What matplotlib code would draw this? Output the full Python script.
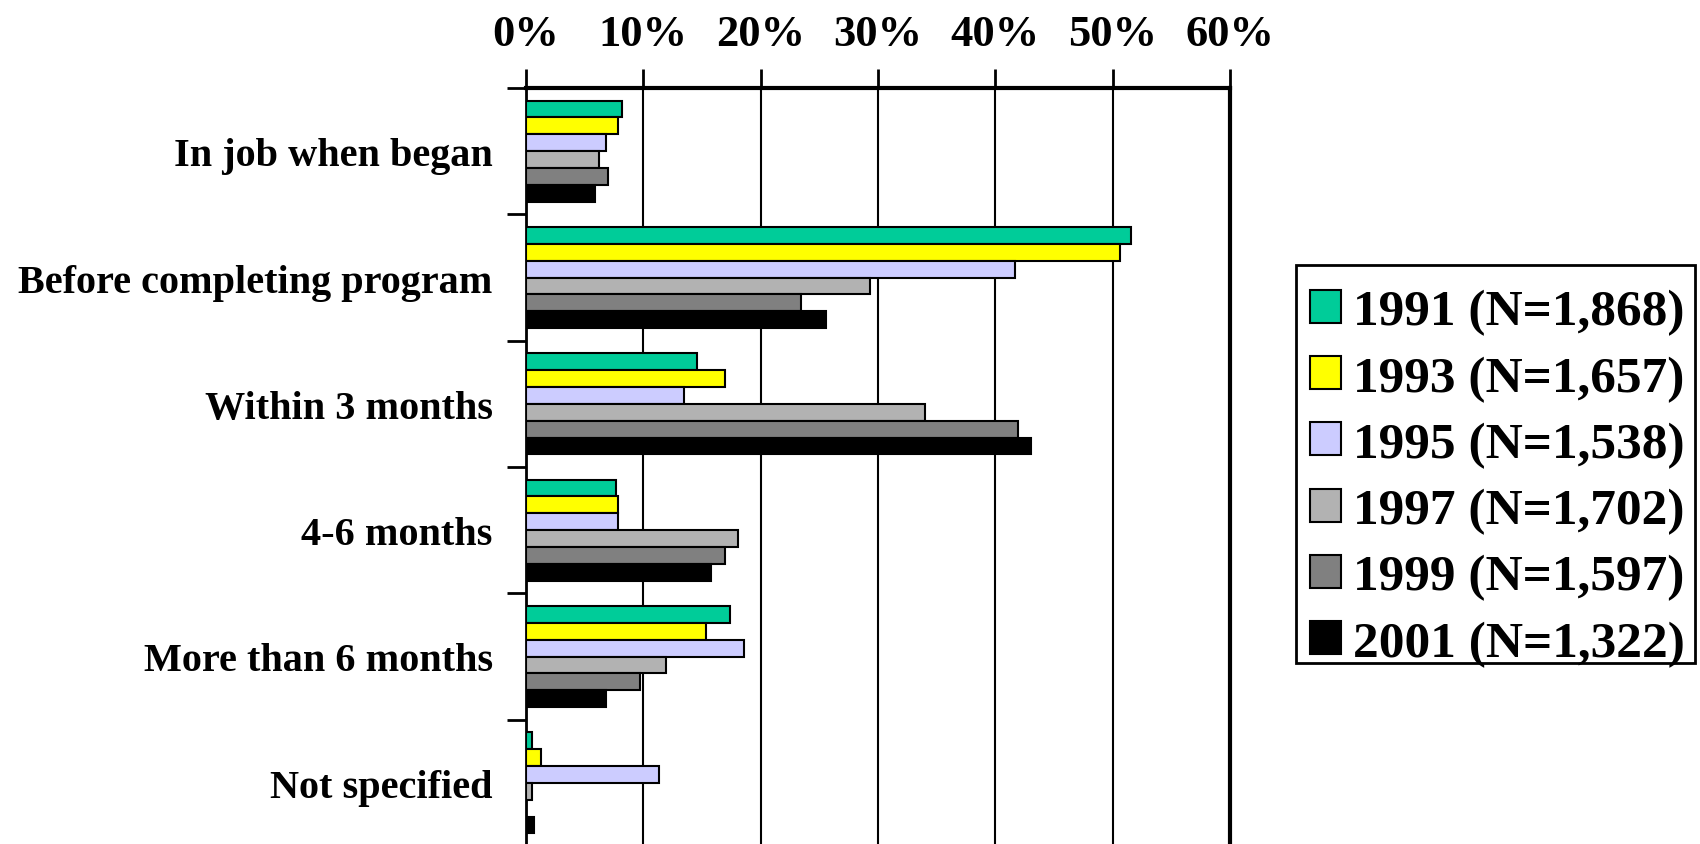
import matplotlib
matplotlib.use('Agg')
import matplotlib.pyplot as plt
from matplotlib.patches import Rectangle
from matplotlib.ticker import FixedLocator, FuncFormatter

plt.rcParams['font.family'] = ['Liberation Serif', 'DejaVu Serif']
plt.rcParams['font.weight'] = 'bold'

# timing of job placement, share of completers (%)
categories = ['In job when began', 'Before completing program', 'Within 3 months',
              '4-6 months', 'More than 6 months', 'Not specified']
series_labels = ['1991 (N=1,868)', '1993 (N=1,657)', '1995 (N=1,538)',
                 '1997 (N=1,702)', '1999 (N=1,597)', '2001 (N=1,322)']
colors = ['#00CC99', '#FFFF00', '#CCCCFF', '#B2B2B2', '#808080', '#000000']

y1991 = [8.2, 51.6, 14.6, 7.7, 17.4, 0.5]
y1993 = [7.8, 50.6, 17.0, 7.8, 15.3, 1.3]
y1995 = [6.8, 41.7, 13.5, 7.8, 18.6, 11.3]
y1997 = [6.2, 29.3, 34.0, 18.1, 11.9, 0.5]
y1999 = [7.0, 23.4, 41.9, 17.0, 9.7, 0.0]
y2001 = [5.9, 25.6, 43.0, 15.8, 6.8, 0.7]
series = [y1991, y1993, y1995, y1997, y1999, y2001]

fig = plt.figure(figsize=(17, 8.45), dpi=100)
ax = fig.add_axes([526 / 1700, -2 / 845, (1230 - 526) / 1700, (847 - 89) / 845])

# 6 bars per group, gap width 150% of a bar
h = 1 / 7.5
for j, (vals, lab, col) in enumerate(zip(series, series_labels, colors)):
    pos = [i + 0.5 + (j - 2.5) * h for i in range(len(categories))]
    ax.barh(pos, vals, height=h, color=col, edgecolor='black', linewidth=1.5,
            label=lab, zorder=3)

ax.set_xlim(0, 60)
ax.set_ylim(len(categories), 0)

# x axis on top with percent labels
ax.xaxis.tick_top()
ax.set_xticks(range(0, 61, 10))
ax.xaxis.set_major_formatter(FuncFormatter(lambda v, p: f'{v:.0f}%'))
ax.tick_params(axis='x', direction='out', length=14, width=2, pad=10.5, labelsize=32)
ax.grid(axis='x', color='black', linewidth=1.5, zorder=1)

# category labels centred, tick marks on the boundaries
ax.set_yticks([i + 0.5 for i in range(len(categories))])
ax.set_yticklabels(categories)
ax.yaxis.set_minor_locator(FixedLocator(range(len(categories) + 1)))
ax.tick_params(axis='y', which='major', length=0, pad=24, labelsize=29)
ax.tick_params(axis='y', which='minor', direction='out', length=14, width=2)

ax.spines['top'].set_linewidth(3)
ax.spines['right'].set_linewidth(3)
ax.spines['left'].set_linewidth(2)
ax.spines['bottom'].set_visible(False)

# legend entries, with a separately drawn box around them
leg = fig.legend(loc='center left', bbox_to_anchor=(1310 / 1700, 1 - 479 / 845),
                 bbox_transform=fig.transFigure, borderaxespad=0, borderpad=0,
                 fontsize=37, handlelength=0.61, handleheight=0.61,
                 handletextpad=0.23, labelspacing=0.39, frameon=False)
fig.add_artist(Rectangle((1296 / 1700, 1 - 664 / 845), 399 / 1700, 398 / 845,
                         transform=fig.transFigure, fill=False,
                         edgecolor='black', linewidth=2))

fig.savefig('out.png', dpi=100)
